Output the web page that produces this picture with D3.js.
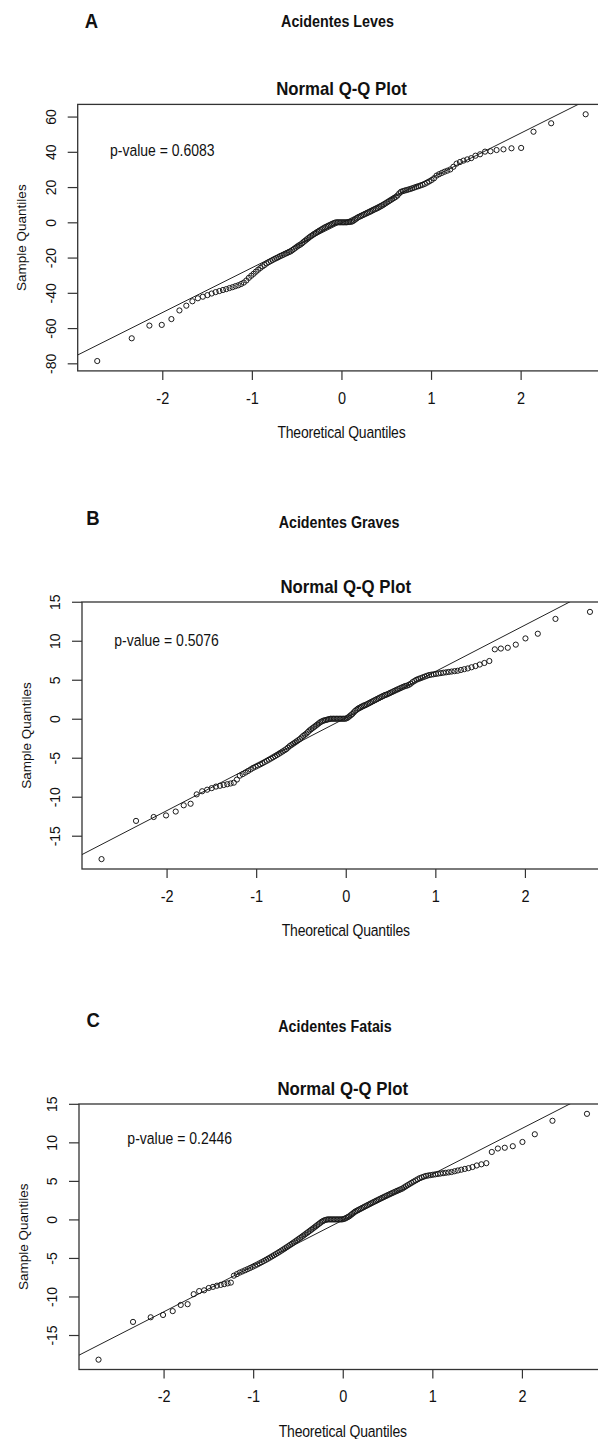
<!DOCTYPE html>
<html>
<head>
<meta charset="utf-8">
<script src="https://cdn.jsdelivr.net/npm/d3@7"></script>
<style>
  html, body { margin: 0; padding: 0; background: #fff; }
  svg { display: block; }
  text { font-family: "Liberation Sans", Arial, Helvetica, sans-serif; fill: #111; }
</style>
</head>
<body>
<div id="chart"></div>
<script>
// sorted sample quantiles (n = 156)
const levesValues = [
  -78.7, -65.8, -58.6, -58.2, -54.9, -50.0, -47.3, -44.8, -43.1, -42.2,
  -41.3, -40.4, -39.6, -39.0, -38.4, -37.9, -37.3, -36.8, -36.2, -35.7,
  -35.0, -34.2, -33.0, -31.5, -30.3, -29.2, -28.0, -26.9, -25.9, -25.0,
  -24.2, -23.3, -22.6, -22.0, -21.4, -20.8, -20.3, -19.8, -19.2, -18.8,
  -18.3, -17.8, -17.4, -16.9, -16.5, -15.8, -15.1, -14.4, -13.7, -13.1,
  -12.6, -11.9, -11.1, -10.4, -9.7, -9.0, -8.3, -7.7, -7.1, -6.5,
  -6.0, -5.4, -4.9, -4.4, -3.9, -3.4, -2.9, -2.5, -2.1, -1.7,
  -1.3, -0.9, -0.5, -0.2, 0, 0, 0, 0, 0, 0,
  0, 0, 0.1, 0.2, 0.3, 0.5, 1.0, 1.6, 2.2, 2.8,
  3.2, 3.6, 4.0, 4.4, 4.8, 5.2, 5.6, 6.0, 6.4, 6.9,
  7.3, 7.7, 8.1, 8.6, 9.1, 9.6, 10.2, 10.8, 11.4, 12.0,
  12.6, 13.2, 13.8, 14.4, 15.2, 16.4, 17.3, 17.7, 18.0, 18.3,
  18.6, 18.9, 19.3, 19.7, 20.1, 20.5, 20.9, 21.3, 21.8, 22.5,
  23.2, 24.0, 25.0, 26.5, 27.3, 28.0, 28.7, 29.3, 30.0, 31.5,
  33.3, 34.2, 35.0, 35.7, 36.4, 37.8, 38.6, 40.1, 40.3, 41.0,
  41.4, 42.0, 42.2, 51.4, 56.2, 61.3
];
const gravesValues = [
  -18.0, -13.1, -12.6, -12.4, -11.9, -11.1, -10.9, -9.7, -9.3, -9.1,
  -8.9, -8.7, -8.6, -8.5, -8.4, -8.3, -8.2, -7.8, -7.3, -7.1,
  -6.9, -6.7, -6.5, -6.3, -6.15, -6.0, -5.85, -5.7, -5.55, -5.4,
  -5.25, -5.1, -4.95, -4.8, -4.65, -4.5, -4.35, -4.2, -4.05, -3.9,
  -3.7, -3.5, -3.35, -3.2, -3.05, -2.9, -2.75, -2.6, -2.4, -2.2,
  -2.05, -1.9, -1.7, -1.5, -1.35, -1.2, -1.05, -0.9, -0.75, -0.6,
  -0.45, -0.35, -0.25, -0.2, -0.15, -0.1, -0.05, 0, 0, 0,
  0, 0, 0, 0, 0, 0, 0, 0, 0.05, 0.15,
  0.3, 0.45, 0.6, 0.8, 1.0, 1.15, 1.3, 1.4, 1.5, 1.6,
  1.7, 1.75, 1.85, 1.95, 2.05, 2.15, 2.25, 2.35, 2.45, 2.55,
  2.65, 2.75, 2.85, 2.95, 3.05, 3.1, 3.2, 3.3, 3.4, 3.5,
  3.6, 3.7, 3.8, 3.9, 4.0, 4.1, 4.2, 4.25, 4.35, 4.5,
  4.7, 4.85, 5.0, 5.1, 5.2, 5.3, 5.4, 5.5, 5.6, 5.65,
  5.7, 5.75, 5.8, 5.85, 5.9, 5.95, 6.0, 6.05, 6.1, 6.15,
  6.25, 6.35, 6.45, 6.6, 6.75, 6.95, 7.15, 7.4, 8.9, 9.0,
  9.1, 9.5, 10.3, 10.9, 12.8, 13.7
];
const fataisValues = [
  -18.2, -13.3, -12.7, -12.4, -11.9, -11.1, -11.0, -9.7, -9.3, -9.2,
  -8.9, -8.75, -8.6, -8.5, -8.4, -8.3, -8.2, -7.3, -7.1, -6.9,
  -6.75, -6.6, -6.45, -6.3, -6.15, -6.0, -5.85, -5.7, -5.55, -5.4,
  -5.25, -5.1, -4.95, -4.8, -4.65, -4.5, -4.35, -4.2, -4.05, -3.9,
  -3.75, -3.6, -3.45, -3.3, -3.15, -3.0, -2.85, -2.7, -2.55, -2.4,
  -2.25, -2.1, -1.95, -1.8, -1.65, -1.5, -1.35, -1.2, -1.05, -0.9,
  -0.75, -0.6, -0.45, -0.3, -0.2, -0.1, -0.05, 0, 0, 0,
  0, 0, 0, 0, 0, 0, 0, 0, 0.05, 0.1,
  0.2, 0.3, 0.4, 0.55, 0.7, 0.85, 1.0, 1.1, 1.2, 1.3,
  1.4, 1.5, 1.6, 1.7, 1.8, 1.9, 2.0, 2.1, 2.2, 2.3,
  2.4, 2.5, 2.6, 2.7, 2.8, 2.9, 3.0, 3.1, 3.2, 3.3,
  3.4, 3.5, 3.6, 3.7, 3.8, 3.9, 4.0, 4.15, 4.3, 4.45,
  4.6, 4.75, 4.9, 5.05, 5.2, 5.35, 5.45, 5.55, 5.65, 5.7,
  5.75, 5.8, 5.85, 5.9, 5.95, 6.0, 6.05, 6.1, 6.15, 6.25,
  6.35, 6.45, 6.55, 6.65, 6.8, 7.0, 7.15, 7.3, 8.75, 9.2,
  9.3, 9.5, 10.05, 11.05, 12.8, 13.7
];

const panelLetters = ["A", "B", "C"];
const panelTitles = ["Acidentes Leves", "Acidentes Graves", "Acidentes Fatais"];
const pValues = ["0.6083", "0.5076", "0.2446"];
// reference line as drawn: [intercept, slope]
const qqLines = [[-0.35, 25.45], [0.1, 5.95], [-0.1, 5.95]];
const xTicks = [-2, -1, 0, 1, 2];
const yTicksLeves = [-80, -60, -40, -20, 0, 20, 40, 60];
const yTicksGraves = [-15, -10, -5, 0, 5, 10, 15];
const yTicksFatais = [-15, -10, -5, 0, 5, 10, 15];

const W = 598, H = 1439;
const plotWidth = 527.5;
const stretch = 1.12; // the source picture is a little taller than wide in its lettering

// where each panel sits on the page
const layout = [
  { left: 77.7, top: 104.4, bottom: 370.9, letterX: 91.5, letterY: 21, subX: 337.5, subY: 21.5, pAt: [-2, 41] },
  { left: 82, top: 602, bottom: 869, letterX: 93, letterY: 518, subX: 339, subY: 522, pAt: [-2, 10] },
  { left: 79, top: 1104, bottom: 1369.5, letterX: 93.3, letterY: 1020, subX: 335, subY: 1026.5, pAt: [-1.82, 10.5] }
];

// inverse normal cdf (Acklam), used for the theoretical quantiles like R's qqnorm
function qnorm(p) {
  const a = [-3.969683028665376e+01, 2.209460984245205e+02, -2.759285104469687e+02, 1.383577518672690e+02, -3.066479806614716e+01, 2.506628277459239e+00];
  const b = [-5.447609879822406e+01, 1.615858368580409e+02, -1.556989798598866e+02, 6.680131188771972e+01, -1.328068155288572e+01];
  const c = [-7.784894002430293e-03, -3.223964580411365e-01, -2.400758277161838e+00, -2.549732539343734e+00, 4.374664141464968e+00, 2.938163982698783e+00];
  const d = [7.784695709041462e-03, 3.224671290700398e-01, 2.445134137142996e+00, 3.754408661907416e+00];
  const pl = 0.02425;
  if (p < pl) {
    const q = Math.sqrt(-2 * Math.log(p));
    return (((((c[0]*q+c[1])*q+c[2])*q+c[3])*q+c[4])*q+c[5]) / ((((d[0]*q+d[1])*q+d[2])*q+d[3])*q+1);
  }
  if (p > 1 - pl) {
    const q = Math.sqrt(-2 * Math.log(1 - p));
    return -(((((c[0]*q+c[1])*q+c[2])*q+c[3])*q+c[4])*q+c[5]) / ((((d[0]*q+d[1])*q+d[2])*q+d[3])*q+1);
  }
  const q = p - 0.5, r = q * q;
  return (((((a[0]*r+a[1])*r+a[2])*r+a[3])*r+a[4])*r+a[5])*q / (((((b[0]*r+b[1])*r+b[2])*r+b[3])*r+b[4])*r+1);
}

const svg = d3.select("#chart")
  .append("svg")
  .attr("width", W)
  .attr("height", H);

// horizontal label, centred on (x, y), slightly stretched vertically
function label(g, x, y, txt, size, bold) {
  return g.append("text")
    .attr("transform", `translate(${x},${y}) scale(1,${stretch})`)
    .attr("dy", "0.35em")
    .attr("text-anchor", "middle")
    .style("font-size", size + "px")
    .style("font-weight", bold ? "bold" : "normal")
    .text(txt);
}

function drawPanel(values, i, yTicks) {
  const L = layout[i];
  const n = values.length;
  const pts = values.map((v, k) => ({ x: qnorm((k + 0.5) / n), y: v }));

  // R style 4% padding on both axes
  const xExt = d3.extent(pts, d => d.x);
  const yExt = d3.extent(values);
  const px = (xExt[1] - xExt[0]) * 0.04;
  const py = (yExt[1] - yExt[0]) * 0.04;

  const x = d3.scaleLinear()
    .domain([xExt[0] - px, xExt[1] + px])
    .range([L.left, L.left + plotWidth]);
  const y = d3.scaleLinear()
    .domain([yExt[0] - py, yExt[1] + py])
    .range([L.bottom, L.top]);

  const g = svg.append("g");
  const cx = L.left + plotWidth / 2;

  label(g, L.letterX, L.letterY, panelLetters[i], 18.5, true);
  label(g, L.subX, L.subY, panelTitles[i], 14.3, true);
  label(g, cx, L.top - 16, "Normal Q-Q Plot", 16.8, true);

  // axes
  const xAxis = g.append("g")
    .attr("transform", `translate(0,${L.bottom})`)
    .call(d3.axisBottom(x).tickValues(xTicks).tickSize(9).tickSizeOuter(0).tickFormat(d => String(d)));
  xAxis.select(".domain").remove();
  xAxis.selectAll("line").attr("stroke", "#333").attr("stroke-width", 1.2);
  xAxis.selectAll("text")
    .attr("y", null).attr("dy", "0.35em")
    .attr("transform", `translate(0,27) scale(1,${stretch})`)
    .style("font-size", "14.5px")
    .style("font-family", "'Liberation Sans', Arial, sans-serif")
    .attr("fill", "#111");

  const yAxis = g.append("g")
    .attr("transform", `translate(${L.left},0)`)
    .call(d3.axisLeft(y).tickValues(yTicks).tickSize(10).tickSizeOuter(0).tickFormat(d => String(d)));
  yAxis.select(".domain").remove();
  yAxis.selectAll("line").attr("stroke", "#333").attr("stroke-width", 1.2);
  yAxis.selectAll("text")
    .attr("transform", "rotate(-90)")
    .attr("x", 0).attr("y", -27).attr("dy", "0.35em")
    .attr("text-anchor", "middle")
    .style("font-size", "14px")
    .style("font-family", "'Liberation Sans', Arial, sans-serif")
    .attr("fill", "#111");

  label(g, cx, L.bottom + 62, "Theoretical Quantiles", 14, false)
    .style("letter-spacing", "-0.2px");

  g.append("text")
    .attr("transform", `translate(${L.left - 56},${(L.top + L.bottom) / 2}) rotate(-90)`)
    .attr("dy", "0.35em")
    .attr("text-anchor", "middle")
    .style("font-size", "13.5px")
    .text("Sample Quantiles");

  // box
  g.append("rect")
    .attr("x", L.left).attr("y", L.top)
    .attr("width", plotWidth).attr("height", L.bottom - L.top)
    .attr("fill", "none").attr("stroke", "#333").attr("stroke-width", 1.3);

  const clipId = "clip" + i;
  g.append("clipPath").attr("id", clipId)
    .append("rect")
    .attr("x", L.left).attr("y", L.top)
    .attr("width", plotWidth).attr("height", L.bottom - L.top);

  const [b0, b1] = qqLines[i];
  const xd = x.domain();
  g.append("line")
    .attr("clip-path", `url(#${clipId})`)
    .attr("x1", x(xd[0])).attr("y1", y(b0 + b1 * xd[0]))
    .attr("x2", x(xd[1])).attr("y2", y(b0 + b1 * xd[1]))
    .attr("stroke", "#222").attr("stroke-width", 1);

  g.selectAll(".pt")
    .data(pts)
    .enter()
    .append("circle")
    .attr("class", "pt")
    .attr("cx", d => x(d.x))
    .attr("cy", d => y(d.y))
    .attr("r", 2.6)
    .attr("fill", "none")
    .attr("stroke", "#1a1a1a")
    .attr("stroke-width", 1);

  label(g, x(L.pAt[0]), y(L.pAt[1]), "p-value = " + pValues[i], 14, false);
}

drawPanel(levesValues, 0, yTicksLeves);
drawPanel(gravesValues, 1, yTicksGraves);
drawPanel(fataisValues, 2, yTicksFatais);
</script>
</body>
</html>
